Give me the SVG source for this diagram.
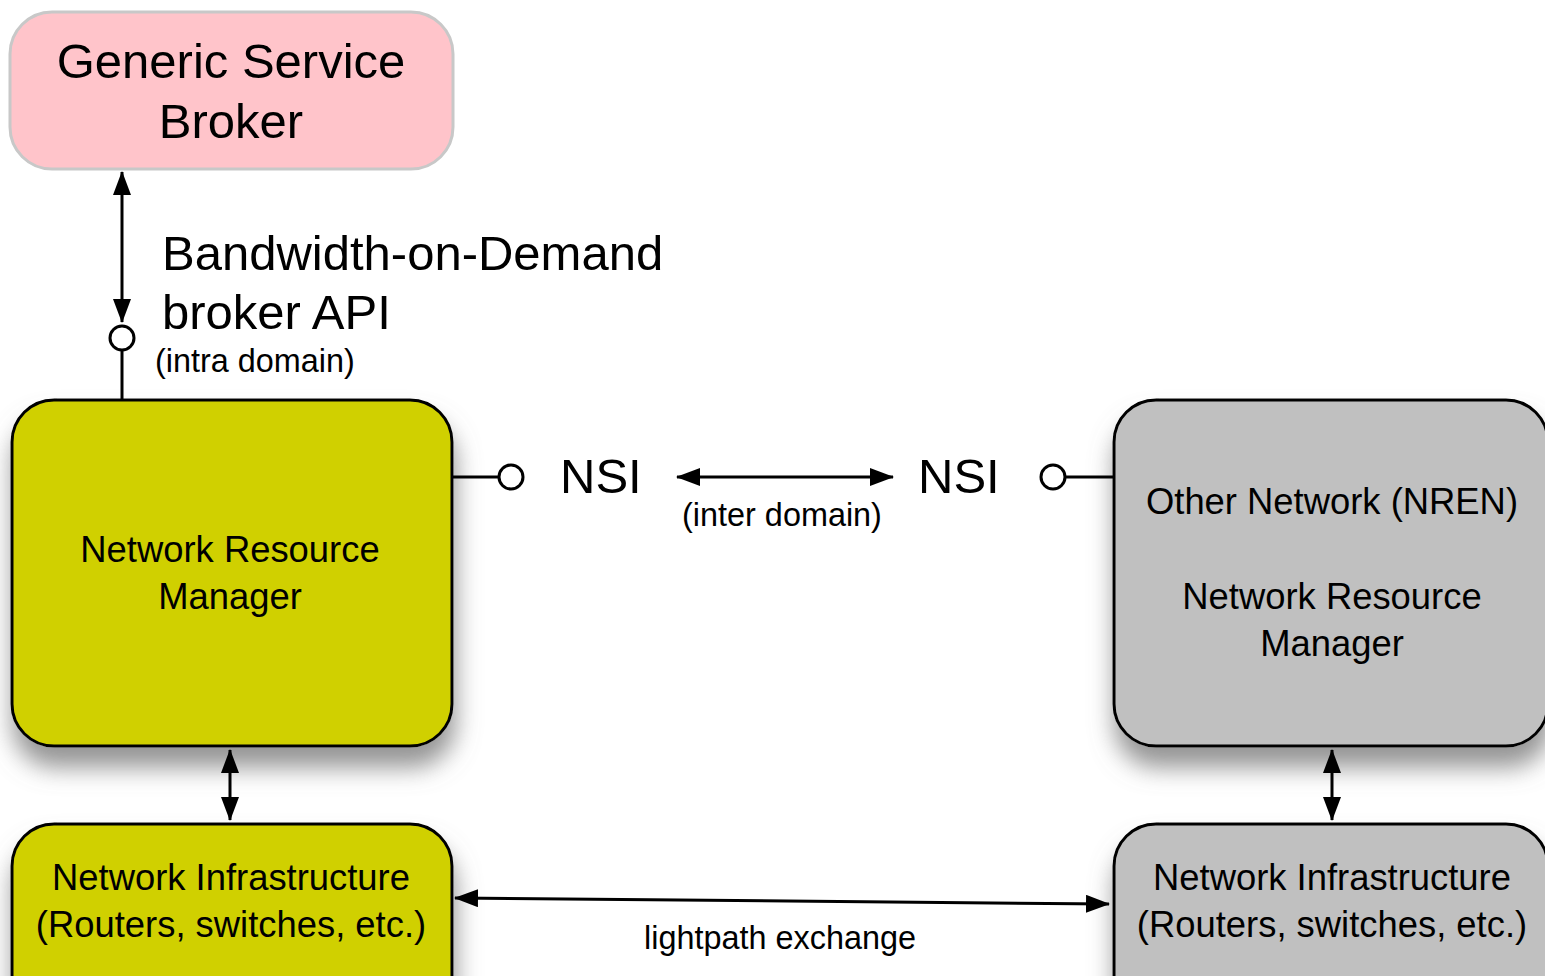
<svg xmlns="http://www.w3.org/2000/svg" width="1545" height="976" viewBox="0 0 1545 976">
  <style>
    .lbl { font-family: "Liberation Sans", Arial, sans-serif; fill: #000; text-anchor: middle; }
    .start { text-anchor: start; }
    .big { font-size: 49px; }
    .mid { font-size: 36.4px; }
    .sml { font-size: 32.4px; }
    .box { stroke: #000; stroke-width: 3; }
    .yel { fill: #D0D000; }
    .gry { fill: #C0C0C0; }
    .line { stroke: #000; stroke-width: 3; fill: none; }
    .port { stroke: #000; stroke-width: 3; fill: #fff; }
  </style>
  <defs>
    <filter id="shadow" x="-20%" y="-20%" width="140%" height="160%">
      <feGaussianBlur in="SourceAlpha" stdDeviation="12"/>
      <feOffset dx="2" dy="20" result="b"/>
      <feFlood flood-color="#7a7a7a" flood-opacity="0.8"/>
      <feComposite in2="b" operator="in"/>
      <feMerge>
        <feMergeNode/>
        <feMergeNode in="SourceGraphic"/>
      </feMerge>
    </filter>
    <marker id="arrow" markerUnits="userSpaceOnUse" markerWidth="24" markerHeight="18" viewBox="0 0 24 18" refX="23" refY="9" orient="auto-start-reverse">
      <path d="M0,0 L24,9 L0,18 Z" fill="#000"/>
    </marker>
  </defs>

  <rect width="1545" height="976" fill="#fff"/>

  <!-- broker -->
  <g id="broker">
    <rect x="10" y="12" width="443" height="157" rx="42" fill="#FFC4CA" stroke="#C8C8C8" stroke-width="3"/>
    <text class="lbl big" x="231" y="78">Generic Service</text>
    <text class="lbl big" x="231" y="138">Broker</text>
  </g>

  <!-- local network resource manager -->
  <g id="nrm-local">
    <rect class="box yel" x="12" y="400" width="440" height="346" rx="42" filter="url(#shadow)"/>
    <text class="lbl mid" x="230" y="562">Network Resource</text>
    <text class="lbl mid" x="230" y="609">Manager</text>
  </g>

  <!-- local infrastructure -->
  <g id="infra-local">
    <rect class="box yel" x="12" y="824" width="440" height="200" rx="42" filter="url(#shadow)"/>
    <text class="lbl mid" x="231" y="890">Network Infrastructure</text>
    <text class="lbl mid" x="231" y="937">(Routers, switches, etc.)</text>
  </g>

  <!-- remote network resource manager -->
  <g id="nrm-remote">
    <rect class="box gry" x="1114" y="400" width="434" height="346" rx="42" filter="url(#shadow)"/>
    <text class="lbl mid" x="1332" y="514">Other Network (NREN)</text>
    <text class="lbl mid" x="1332" y="609">Network Resource</text>
    <text class="lbl mid" x="1332" y="656">Manager</text>
  </g>

  <!-- remote infrastructure -->
  <g id="infra-remote">
    <rect class="box gry" x="1114" y="824" width="434" height="200" rx="42" filter="url(#shadow)"/>
    <text class="lbl mid" x="1332" y="890">Network Infrastructure</text>
    <text class="lbl mid" x="1332" y="937">(Routers, switches, etc.)</text>
  </g>

  <!-- connectors -->
  <g id="connectors">
    <!-- broker API -->
    <line class="line" x1="122" y1="172" x2="122" y2="322" marker-start="url(#arrow)" marker-end="url(#arrow)"/>
    <line class="line" x1="122" y1="350" x2="122" y2="400"/>
    <circle class="port" cx="122" cy="338" r="12"/>

    <!-- NSI inter domain -->
    <line class="line" x1="453" y1="477" x2="499" y2="477"/>
    <circle class="port" cx="511" cy="477" r="12"/>
    <line class="line" x1="677" y1="477" x2="893" y2="477" marker-start="url(#arrow)" marker-end="url(#arrow)"/>
    <circle class="port" cx="1053" cy="477" r="12"/>
    <line class="line" x1="1065" y1="477" x2="1114" y2="477"/>

    <!-- manager to infrastructure -->
    <line class="line" x1="230" y1="750" x2="230" y2="820" marker-start="url(#arrow)" marker-end="url(#arrow)"/>
    <line class="line" x1="1332" y1="750" x2="1332" y2="820" marker-start="url(#arrow)" marker-end="url(#arrow)"/>

    <!-- lightpath exchange -->
    <line class="line" x1="455" y1="898" x2="1109" y2="904" marker-start="url(#arrow)" marker-end="url(#arrow)"/>
  </g>

  <!-- labels -->
  <g id="labels">
    <text class="lbl big start" x="162" y="270">Bandwidth-on-Demand</text>
    <text class="lbl big start" x="162" y="329">broker API</text>
    <text class="lbl sml start" x="155" y="372">(intra domain)</text>
    <text class="lbl big start" x="560" y="493">NSI</text>
    <text class="lbl big start" x="918" y="493">NSI</text>
    <text class="lbl sml" x="782" y="526">(inter domain)</text>
    <text class="lbl sml" x="780" y="949">lightpath exchange</text>
  </g>
</svg>
